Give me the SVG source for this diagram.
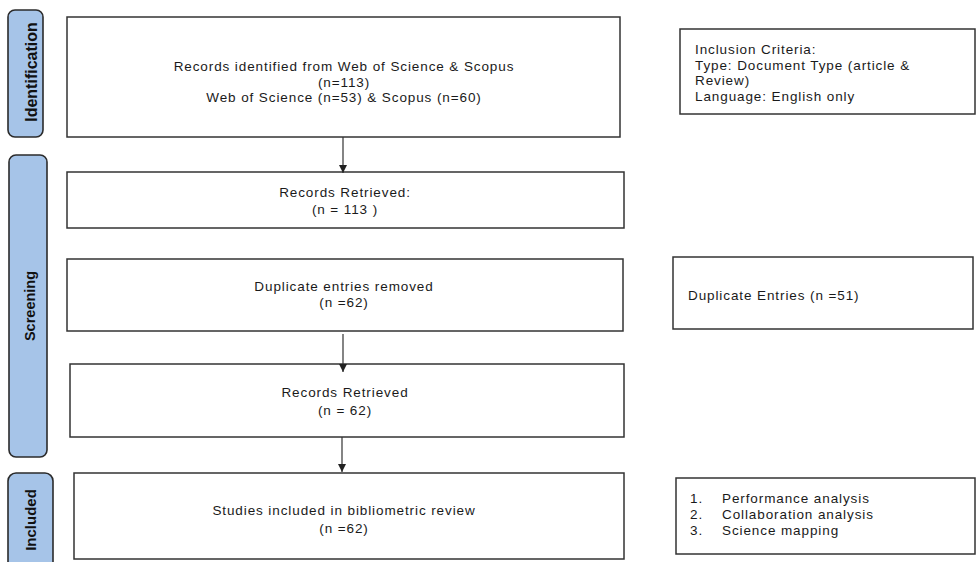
<svg xmlns="http://www.w3.org/2000/svg" width="976" height="562" viewBox="0 0 976 562">
<style>
.box{fill:#fff;stroke:#333;stroke-width:1.5}
.pill{fill:#a6c4e8;stroke:#2b2b2b;stroke-width:1.6}
.t{font-family:"Liberation Sans",Arial,sans-serif;font-size:13.5px;letter-spacing:0.9px;fill:#1a1a1a}
.c{text-anchor:middle}
.lab{font-family:"Liberation Sans",Arial,sans-serif;font-weight:bold;fill:#111;text-anchor:middle}
.con{stroke:#333;stroke-width:1.2;fill:none}
</style>
<defs>
<marker id="ah" viewBox="0 0 10 10" refX="10" refY="5" markerWidth="8" markerHeight="8" markerUnits="userSpaceOnUse" orient="auto">
<path d="M0,0 L10,5 L0,10 z" fill="#222"/>
</marker>
</defs>
<rect width="976" height="562" fill="#fff"/>

<g id="stage-identification">
<rect class="pill" x="8" y="10" width="35" height="127" rx="7"/>
<text class="lab" font-size="16" transform="translate(37,72) rotate(-90)">Identification</text>
</g>
<g id="stage-screening">
<rect class="pill" x="9" y="155" width="38" height="302" rx="7"/>
<text class="lab" font-size="14.5" transform="translate(35,306) rotate(-90)">Screening</text>
</g>
<g id="stage-included">
<rect class="pill" x="8" y="473" width="45" height="110" rx="8"/>
<text class="lab" font-size="15" transform="translate(36,520) rotate(-90)">Included</text>
</g>

<g id="records-identified">
<rect class="box" x="67" y="17" width="553" height="120"/>
<text class="t c" x="344" y="71">Records identified from Web of Science &amp; Scopus</text>
<text class="t c" x="344" y="86.5">(n=113)</text>
<text class="t c" x="344" y="102">Web of Science (n=53) &amp; Scopus (n=60)</text>
</g>
<g id="records-retrieved-1">
<rect class="box" x="67" y="172" width="557" height="56"/>
<text class="t c" x="345" y="197">Records Retrieved:</text>
<text class="t c" x="345" y="214">(n = 113 )</text>
</g>
<g id="duplicates-removed">
<rect class="box" x="67" y="259" width="556" height="72"/>
<text class="t c" x="344" y="291">Duplicate entries removed</text>
<text class="t c" x="344" y="307">(n =62)</text>
</g>
<g id="records-retrieved-2">
<rect class="box" x="70" y="364" width="554" height="73"/>
<text class="t c" x="345" y="397">Records Retrieved</text>
<text class="t c" x="345" y="415">(n = 62)</text>
</g>
<g id="studies-included">
<rect class="box" x="74" y="473" width="550" height="86"/>
<text class="t c" x="344" y="515">Studies included in bibliometric review</text>
<text class="t c" x="344" y="533">(n =62)</text>
</g>

<g id="inclusion-criteria">
<rect class="box" x="680" y="29" width="295" height="85"/>
<text class="t" x="695" y="54">Inclusion Criteria:</text>
<text class="t" x="695" y="69.5">Type: Document Type (article &amp;</text>
<text class="t" x="695" y="85">Review)</text>
<text class="t" x="695" y="100.5">Language: English only</text>
</g>
<g id="duplicate-entries">
<rect class="box" x="673" y="257" width="300" height="72"/>
<text class="t" x="688" y="300">Duplicate Entries (n =51)</text>
</g>
<g id="analysis-list">
<rect class="box" x="676" y="478" width="299" height="76"/>
<text class="t" x="690" y="503">1.</text>
<text class="t" x="722" y="503">Performance analysis</text>
<text class="t" x="690" y="519">2.</text>
<text class="t" x="722" y="519">Collaboration analysis</text>
<text class="t" x="690" y="535">3.</text>
<text class="t" x="722" y="535">Science mapping</text>
</g>

<g id="connectors">
<line class="con" x1="343" y1="137" x2="343" y2="173" marker-end="url(#ah)"/>
<line class="con" x1="343" y1="334" x2="343" y2="372" marker-end="url(#ah)" stroke="#666"/>
<line class="con" x1="342" y1="437" x2="342" y2="472" marker-end="url(#ah)"/>
</g>
</svg>
